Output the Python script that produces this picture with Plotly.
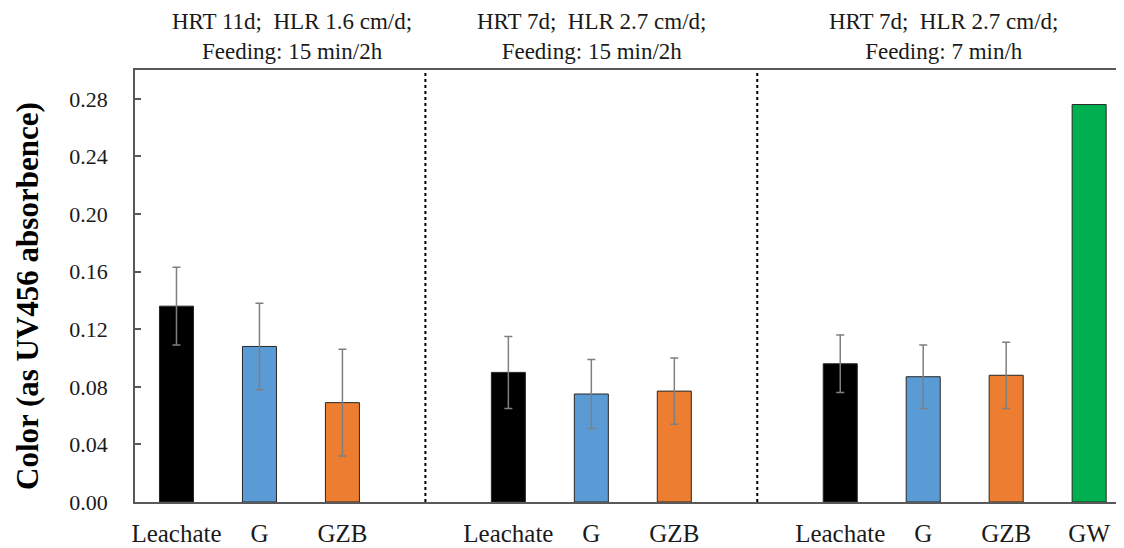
import plotly.graph_objects as go

# ---- data ----
conditions = [
    "HRT 11d;  HLR 1.6 cm/d;<br>Feeding: 15 min/2h",
    "HRT 7d;  HLR 2.7 cm/d;<br>Feeding: 15 min/2h",
    "HRT 7d;  HLR 2.7 cm/d;<br>Feeding: 7 min/h",
]
treatments = ["Leachate", "G", "GZB"]
leachate = [0.136, 0.090, 0.096]
leachate_err = [0.027, 0.025, 0.020]
g_vals = [0.108, 0.075, 0.087]
g_err = [0.030, 0.024, 0.022]
gzb_vals = [0.069, 0.077, 0.088]
gzb_err = [0.037, 0.023, 0.023]
gw_label = "GW"
gw_val = [0.276]

y_ticks = [0.00, 0.04, 0.08, 0.12, 0.16, 0.20, 0.24, 0.28]
y_title = "Color (as UV456 absorbence)"

# ---- styling ----
FONT = "Liberation Serif, Times New Roman, serif"
colors = {"Leachate": "#000000", "G": "#5B9BD5", "GZB": "#ED7D31", "GW": "#00B050"}
slot = 4  # 3 bars + divider slot per condition


def xpos(group, idx):
    return group * slot + idx


fig = go.Figure()
series = [("Leachate", leachate, leachate_err), ("G", g_vals, g_err), ("GZB", gzb_vals, gzb_err)]
for i, (name, vals, errs) in enumerate(series):
    fig.add_trace(go.Bar(
        x=[xpos(gi, i) for gi in range(len(vals))], y=vals, name=name, width=0.41,
        marker=dict(color=colors[name], line=dict(color="#262626", width=1)),
        error_y=dict(type="data", array=errs, visible=True, color="#7f7f7f", thickness=1.5, width=4),
    ))
fig.add_trace(go.Bar(
    x=[xpos(2, 3)], y=gw_val, name=gw_label, width=0.41,
    marker=dict(color=colors["GW"], line=dict(color="#262626", width=1)),
))

tickvals, ticktext = [], []
for gi in range(len(conditions)):
    for i, t in enumerate(treatments):
        tickvals.append(xpos(gi, i))
        ticktext.append(t)
tickvals.append(xpos(2, 3))
ticktext.append(gw_label)

for gi in range(1, len(conditions)):
    xd = gi * slot - 1
    fig.add_shape(type="line", xref="x", yref="y", x0=xd, x1=xd, y0=0, y1=0.30,
                  line=dict(color="black", width=2, dash="dot"))

header_x = [1.39, 5.0, 9.24]
for gi, txt in enumerate(conditions):
    fig.add_annotation(x=header_x[gi], xref="x", y=1, yref="paper", yanchor="bottom",
                       yshift=4, text=txt, showarrow=False,
                       font=dict(family=FONT, size=23, color="#1a1a1a"))

# y-axis title as rotated annotation for precise placement
fig.add_annotation(x=0, xref="paper", xshift=-108, xanchor="center",
                   y=0.5, yref="paper", yshift=-10, yanchor="middle",
                   text="<b>" + y_title + "</b>", textangle=-90, showarrow=False,
                   font=dict(family=FONT, size=31, color="#000000"))

fig.update_layout(
    width=1116, height=540,
    margin=dict(l=127, r=0, t=62, b=46),
    plot_bgcolor="white", paper_bgcolor="white",
    showlegend=False, barmode="overlay",
    font=dict(family=FONT, color="#1a1a1a"),
)
fig.update_xaxes(
    range=[-0.5, 11.42], tickvals=tickvals, ticktext=ticktext,
    showline=True, linecolor="#595959", linewidth=1.5, mirror=True,
    ticks="", showgrid=False, zeroline=False,
    tickfont=dict(family=FONT, size=25, color="#1a1a1a"), ticklabelstandoff=8,
)
fig.update_yaxes(
    range=[0, 0.30], tickvals=y_ticks, ticktext=[f"{v:.2f}" for v in y_ticks],
    showline=True, linecolor="#595959", linewidth=1.5,
    ticks="inside", ticklen=6, tickcolor="#595959", tickwidth=1.5,
    showgrid=False, zeroline=False,
    tickfont=dict(family=FONT, size=22, color="#1a1a1a"), ticklabelstandoff=21,
)

fig.write_html("out.html")
